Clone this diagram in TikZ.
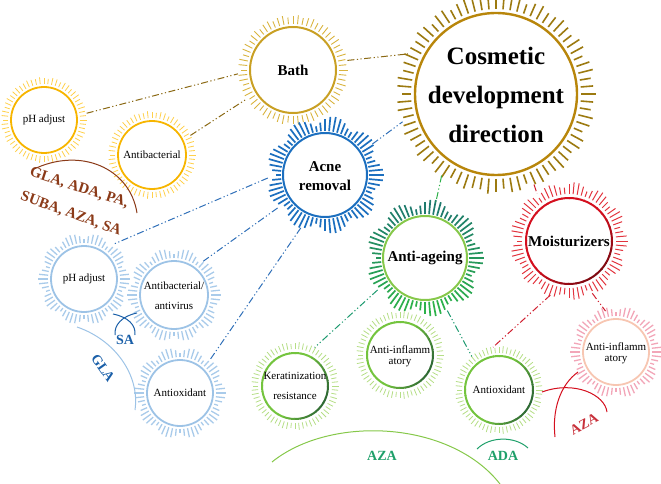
\documentclass[tikz,border=0pt]{standalone}
\usepackage{fontspec}
\setmainfont{Liberation Serif}
\usetikzlibrary{calc}
\definecolor{cddring}{HTML}{B8860B}
\definecolor{cddray}{HTML}{9C7A10}
\definecolor{bathring}{HTML}{C9A024}
\definecolor{bathray}{HTML}{D9B440}
\definecolor{yelring}{HTML}{F7B500}
\definecolor{yelray}{HTML}{FFD04A}
\definecolor{browntxt}{HTML}{8B3A18}
\definecolor{acneblue}{HTML}{1C6FBF}
\definecolor{lbring}{HTML}{9DC3E6}
\definecolor{lbray}{HTML}{A9CBEA}
\definecolor{blutxt}{HTML}{1A5FA8}
\definecolor{agering}{HTML}{86C84A}
\definecolor{ageA}{HTML}{2DB34A}
\definecolor{ageB}{HTML}{1F7A6E}
\definecolor{sgring}{HTML}{74C43E}
\definecolor{sgdark}{HTML}{2F6A34}
\definecolor{sgray}{HTML}{B5DE86}
\definecolor{moring}{HTML}{D40F1E}
\definecolor{modark}{HTML}{7E0A12}
\definecolor{moray}{HTML}{E2343E}
\definecolor{pkring}{HTML}{F7C6B2}
\definecolor{pkray}{HTML}{F2A6B8}
\definecolor{greentxt}{HTML}{1FA06A}
\definecolor{linkbrown}{HTML}{8B6914}
\definecolor{linkblue}{HTML}{2F6FB8}
\definecolor{linkgreen}{HTML}{2EB04A}
\definecolor{linkteal}{HTML}{1E9A70}
\definecolor{linkred}{HTML}{D02030}
\definecolor{redtxt}{HTML}{C8303A}
\newcommand\myrays[9]{%
  \foreach \k in {1,...,#4}{%
    \pgfmathsetmacro\ang{(360/#4)*\k}%
    \pgfmathsetmacro\rB{#3+#5+#6*abs(cos(mod(#7*\ang/2,360)))}%
    \pgfmathtruncatemacro\pct{50+50*sin(\ang)}%
    \draw[line width=#8, color=#9] ($(#1,#2)+(\ang:#3)$) -- ($(#1,#2)+(\ang:\rB)$);
  }}
% ring whose colour shades from colour #6 (towards angle #7) to colour #5
\newcommand\gradring[7]{%
  \foreach \a in {0,10,...,350}{%
    \pgfmathtruncatemacro\pc{max(0,min(100,100*cos(\a-#7)))}%
    \draw[line width=#4, color=#6!\pc!#5] ($(#1,#2)+(\a:#3)$) arc[start angle=\a, end angle=\a+11, radius=#3];
  }}
\tikzset{
  hub/.style={circle, inner sep=0pt, align=center},
  bigtxt/.style={font=\bfseries\fontsize{15}{19}\selectfont},
  smalltxt/.style={font=\fontsize{11}{20}\selectfont},
  link/.style={line width=1pt, dash pattern=on 7pt off 2.5pt on 1.2pt off 2.5pt on 1.2pt off 2.5pt},
  labarc/.style={line width=1pt}
}
\begin{document}
\begin{tikzpicture}[x=1pt,y=-1pt]
\useasboundingbox (0,0) rectangle (661,484);
% ---------- rays and rings ----------
% Cosmetic development direction
\myrays{496}{94}{85}{76}{9}{6}{23}{1.6pt}{cddray}
\draw[cddring, line width=2.4pt] (496,94) circle[radius=81pt];
% Bath
\myrays{293}{70}{46}{64}{6}{3}{21}{0.9pt}{bathray}
\draw[bathring, line width=2pt] (293,70) circle[radius=43pt];
% yellow pH adjust
\myrays{44}{120}{36}{60}{5}{2}{19}{0.8pt}{yelray}
\draw[yelring, line width=1.8pt] (44,120) circle[radius=33pt];
% yellow Antibacterial
\myrays{152}{155}{37}{60}{5}{2}{19}{0.8pt}{yelray}
\draw[yelring, line width=1.8pt] (152,155) circle[radius=34pt];
% Acne removal
\myrays{325}{175}{44}{68}{5}{10}{9}{1.7pt}{acneblue}
\draw[acneblue, line width=2pt] (325,175) circle[radius=42pt];
% light blue pH adjust
\myrays{84}{279}{36}{60}{4}{6}{10}{1.3pt}{lbray}
\draw[lbring, line width=1.8pt] (84,279) circle[radius=33pt];
% Antibacterial/antivirus
\myrays{174}{295}{37}{60}{4}{6}{10}{1.3pt}{lbray}
\draw[lbring, line width=1.8pt] (174,295) circle[radius=34pt];
% blue Antioxidant
\myrays{180}{393}{36}{60}{4}{6}{10}{1.3pt}{lbray}
\draw[lbring, line width=1.8pt] (180,393) circle[radius=33pt];
% Anti-ageing
\myrays{425}{258}{44}{68}{5}{10}{9}{1.7pt}{ageA!\pct!ageB}
\draw[agering, line width=2pt] (425,258) circle[radius=42pt];
% Moisturizers
\myrays{569}{241}{47}{72}{5}{7}{13}{1pt}{moray}
\gradring{569}{241}{43}{2pt}{moring}{modark}{45}
% Keratinization resistance
\myrays{295}{386}{37}{64}{5}{2}{17}{0.8pt}{sgray}
\gradring{295}{386}{33}{2pt}{sgring}{sgdark}{20}
% green Anti-inflammatory
\myrays{400}{355}{37}{64}{5}{2}{17}{0.8pt}{sgray}
\gradring{400}{355}{33}{2pt}{sgring}{sgdark}{20}
% green Antioxidant
\myrays{499}{390}{37}{64}{5}{2}{17}{0.8pt}{sgray}
\gradring{499}{390}{34}{2pt}{sgring}{sgdark}{20}
% pink Anti-inflammatory
\myrays{616}{352}{36}{60}{4}{6}{10}{1.3pt}{pkray}
\draw[pkring, line width=1.8pt] (616,352) circle[radius=33pt];
% ---------- nodes ----------
\node[hub, minimum size=194pt, font=\bfseries\fontsize{25}{39}\selectfont] (cdd) at (496,95) {Cosmetic\\development\\direction};
\node[hub, minimum size=110pt, bigtxt] (bath) at (293,70) {Bath};
\node[hub, minimum size=86pt, smalltxt] (yph) at (44,120) {pH adjust};
\node[hub, minimum size=86pt, smalltxt] (yab) at (152,155) {Antibacterial};
\node[hub, minimum size=114pt, bigtxt] (acne) at (325,176) {Acne\\removal};
\node[hub, minimum size=90pt, smalltxt] (bph) at (84,279) {pH adjust};
\node[hub, minimum size=90pt, smalltxt] (bav) at (174,296) {Antibacterial/\\antivirus};
\node[hub, minimum size=90pt, smalltxt] (bao) at (180,393) {Antioxidant};
\node[hub, minimum size=114pt, bigtxt] (age) at (425,258) {Anti-ageing};
\node[hub, minimum size=114pt, bigtxt] (moist) at (569,241) {Moisturizers};
\node[hub, minimum size=86pt, smalltxt] (ker) at (295,386) {Keratinization\\resistance};
\node[hub, minimum size=86pt, font=\fontsize{11}{11}\selectfont] (gai) at (400,356) {Anti-inflamm\\atory};
\node[hub, minimum size=86pt, smalltxt] (gao) at (499,390) {Antioxidant};
\node[hub, minimum size=86pt, font=\fontsize{11}{11}\selectfont] (pai) at (616,353) {Anti-inflamm\\atory};
% ---------- connectors ----------
\draw[link, linkbrown] (bath.10) -- (cdd.155);
\draw[link, linkbrown] (yph.9) -- (bath.184);
\draw[link, linkbrown] (yab.27) -- (bath.212);
\draw[link, linkblue] (acne.34) -- (cdd.196);
\draw[link, linkblue] (acne.182) -- (bph.50);
\draw[link, linkblue] (acne.214) -- (bav.50);
\draw[link, linkblue] (acne.245) -- (bao.48);
\draw[link, linkgreen] (cdd.236) -- (age.79);
\draw[link, linkred] (cdd.293) -- (moist.124);
\draw[link, linkteal] (age.214) -- (ker.63);
\draw[link, linkteal] (age.293) -- (gao.129);
\draw[link, linkred] (moist.251) -- (gao.98);
\draw[link, linkred] (moist.294) -- (pai.104);
% ---------- label arcs and texts ----------
\draw[labarc, browntxt] (32,170) .. controls (80,146) and (130,168) .. (137,213);
\node[browntxt, font=\bfseries\fontsize{15}{15}\selectfont, rotate=-18, inner sep=0pt] (t1) at (79,188) {GLA, ADA, PA,};
\node[browntxt, font=\bfseries\fontsize{15}{15}\selectfont, rotate=-20, inner sep=0pt] (t2) at (71,214) {SUBA, AZA, SA};
\draw[labarc, lbring] (77,327) .. controls (115,340) and (140,375) .. (135,410);
\draw[labarc, blutxt] (113,314) .. controls (128,317) and (136,325) .. (135,335);
\draw[labarc, blutxt] (137,313) .. controls (122,316) and (114,325) .. (115,335);
\node[blutxt, font=\bfseries\fontsize{14}{14}\selectfont] (tsa) at (125,340) {SA};
\node[blutxt, font=\bfseries\fontsize{14}{14}\selectfont, rotate=-55] (tgla) at (103,368) {GLA};
\draw[labarc, agering] (272,462) .. controls (330,415) and (450,420) .. (500,484);
\node[greentxt, font=\bfseries\fontsize{14}{14}\selectfont] (taza) at (382,456) {AZA};
\draw[labarc, greentxt] (477,449) .. controls (490,436) and (515,436) .. (528,448);
\node[greentxt, font=\bfseries\fontsize{14}{14}\selectfont] (tada) at (503,456) {ADA};
\draw[labarc, moring] (542,392) .. controls (575,380) and (605,395) .. (607,412);
\draw[labarc, moring] (578,372) .. controls (560,385) and (552,410) .. (555,437);
\node[redtxt, font=\bfseries\fontsize{14}{14}\selectfont, rotate=28] (traza) at (584,424) {AZA};
\end{tikzpicture}
\end{document}
